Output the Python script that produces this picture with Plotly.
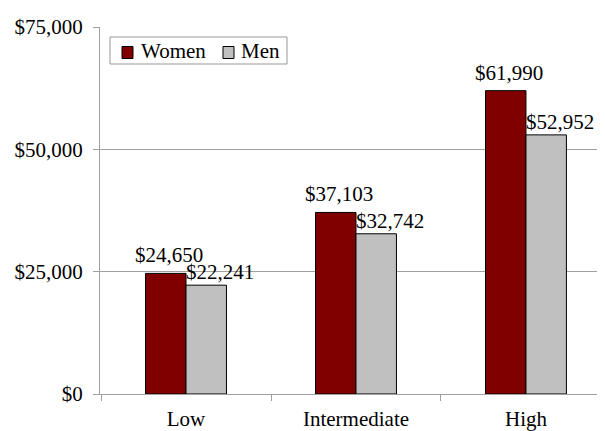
import plotly.graph_objects as go

categories = ["Low", "Intermediate", "High"]
women = [24650, 37103, 61990]
men = [22241, 32742, 52952]
series_names = ["Women", "Men"]
series_colors = ["#800000", "#C0C0C0"]
y_ticks = [0, 25000, 50000, 75000]
y_tick_labels = ["$0", "$25,000", "$50,000", "$75,000"]

FONT = "Liberation Serif"
GRID = "#a0a0a0"
W, H = 597, 423
ML, MR, MT, MB = 92, 0, 19, 37
PW, PH = W - ML - MR, H - MT - MB


def px(x):
    return (x - ML) / PW


def py(y):
    return (H - MB - y) / PH


fig = go.Figure()
for name, vals, col in zip(series_names, [women, men], series_colors):
    fig.add_trace(go.Bar(name=name, x=categories, y=vals, showlegend=False,
                         marker=dict(color=col, line=dict(color="#000000", width=1))))

bargap = 0.524
half = (1 - bargap) / 4
for i, (w, m) in enumerate(zip(women, men)):
    fig.add_annotation(x=i - half, y=w, xref="x", yref="y", text=f"${w:,}",
                       showarrow=False, yanchor="bottom", xanchor="center",
                       xshift=3, yshift=4, font=dict(family=FONT, size=21, color="#000"))
    fig.add_annotation(x=i + half, y=m, xref="x", yref="y", text=f"${m:,}",
                       showarrow=False, yanchor="bottom", xanchor="center",
                       xshift=14, yshift=-1, font=dict(family=FONT, size=21, color="#000"))

# legend (drawn as box + swatches + text)
fig.add_shape(type="rect", xref="paper", yref="paper",
              x0=px(102), x1=px(279), y0=py(29), y1=py(56),
              line=dict(color="#999999", width=1), fillcolor="white", layer="above")
sw_x = [114, 215]
tx_x = [131, 231]
for name, col, sx, tx in zip(series_names, series_colors, sw_x, tx_x):
    fig.add_shape(type="rect", xref="paper", yref="paper",
                  x0=px(sx), x1=px(sx + 11), y0=py(38.5), y1=py(50.5),
                  line=dict(color="#000000", width=1), fillcolor=col, layer="above")
    fig.add_annotation(x=px(tx), y=py(43), xref="paper", yref="paper", text=name,
                       showarrow=False, xanchor="left", yanchor="middle",
                       font=dict(family=FONT, size=21, color="#000"))

fig.update_layout(
    width=W, height=H,
    margin=dict(l=ML, r=MR, t=MT, b=MB, autoexpand=False),
    barmode="group", bargap=bargap, bargroupgap=0,
    plot_bgcolor="white", paper_bgcolor="white",
    font=dict(family=FONT, size=21, color="#000"),
    showlegend=False,
)
fig.update_xaxes(range=[-0.506, 2.465], showline=True, linecolor=GRID, linewidth=1,
                 ticks="outside", tickson="boundaries", ticklen=6, tickcolor=GRID,
                 showgrid=False, automargin=False, ticklabelstandoff=6,
                 tickfont=dict(family=FONT, size=21))
fig.update_yaxes(range=[0, 75000], tickvals=y_ticks, ticktext=y_tick_labels,
                 showline=True, linecolor=GRID, linewidth=1,
                 ticks="outside", ticklen=6, tickcolor=GRID, automargin=False,
                 showgrid=True, gridcolor=GRID, gridwidth=1, zeroline=False,
                 ticklabelstandoff=6, tickfont=dict(family=FONT, size=21))

fig.write_html("out.html")
